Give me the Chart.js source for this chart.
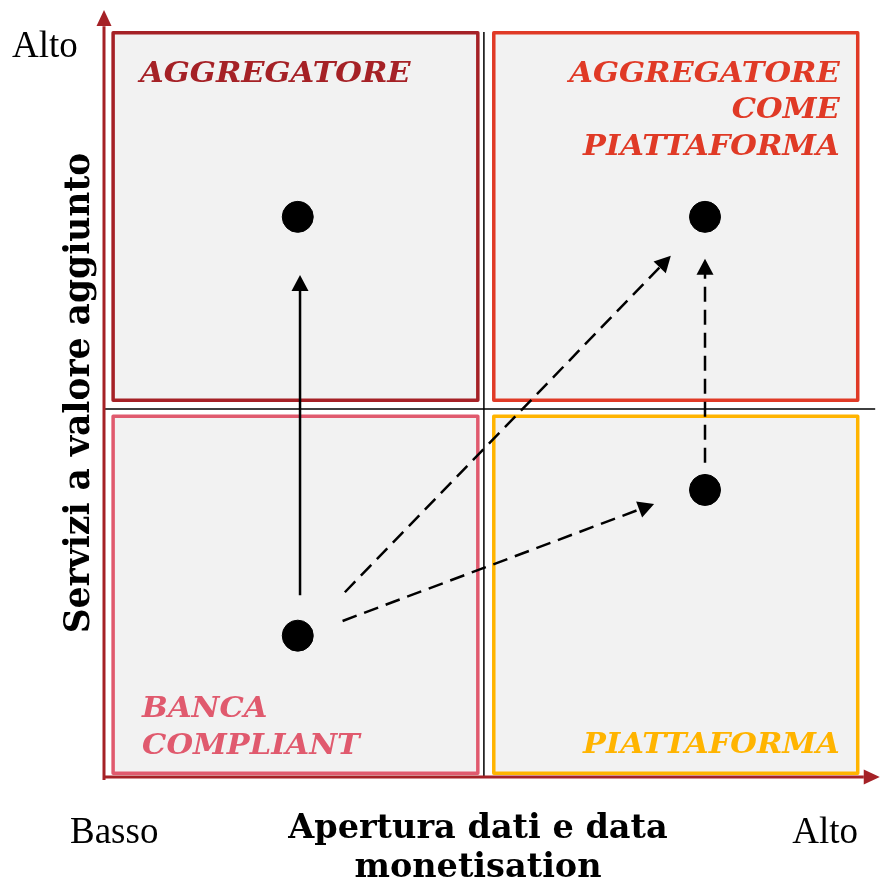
<!DOCTYPE html>
<html>
<head>
<meta charset="utf-8">
<script src="https://cdn.jsdelivr.net/npm/chart.js@4/dist/chart.umd.min.js"></script>
<style>
  html, body { margin: 0; padding: 0; background: #fff; overflow: hidden; }
  #wrap { width: 880px; height: 884px; }
  canvas { display: block; }
</style>
</head>
<body>
<div id="wrap"><canvas id="myChart"></canvas></div>
<script>
/* dati della matrice */
const quadrantLabels = [
    ['AGGREGATORE'],
    ['AGGREGATORE', 'COME', 'PIATTAFORMA'],
    ['BANCA', 'COMPLIANT'],
    ['PIATTAFORMA']
];
const quadrantColors = ['#a52126', '#e03a26', '#e05a6e', '#ffb400'];
// x0, x1, y0, y1 in unita del grafico
const quadrantX0 = [0.12, 5.13, 0.12, 5.13];
const quadrantX1 = [4.92, 9.92, 4.92, 9.92];
const quadrantY0 = [5.12, 5.12, 0.05, 0.05];
const quadrantY1 = [10.11, 10.11, 4.90, 4.90];

const pointX = [2.55, 7.91, 7.91, 2.55];
const pointY = [7.61, 7.61, 3.90, 1.92];

// frecce: partenza -> arrivo
const arrowFromX = [2.58, 3.17, 3.14, 7.91];
const arrowFromY = [2.47, 2.51, 2.12, 4.27];
const arrowToX = [2.58, 7.46, 7.24, 7.91];
const arrowToY = [6.82, 7.08, 3.71, 7.04];
const arrowDashed = [false, true, true, true];

const xLow = 'Basso';
const xHigh = 'Alto';
const yHigh = 'Alto';
const xTitle = ['Apertura dati e data', 'monetisation'];
const yTitle = 'Servizi a valore aggiunto';

const SERIF = '"DejaVu Serif", "Liberation Serif", serif';
const TIMES = '"Liberation Serif", serif';

/* punta di freccia */
let arrowHead = (ctx, x, y, angle, len, half) => {
    ctx.save();
    ctx.translate(x, y);
    ctx.rotate(angle);
    ctx.beginPath();
    ctx.moveTo(0, 0);
    ctx.lineTo(-len, -half);
    ctx.lineTo(-len, half);
    ctx.closePath();
    ctx.fill();
    ctx.restore();
};

/* testo allargato in orizzontale */
let wideText = (ctx, s, x, y, align, k) => {
    ctx.save();
    ctx.translate(x, y);
    ctx.scale(k, 1);
    ctx.textAlign = align;
    ctx.fillText(s, 0, 0);
    ctx.restore();
};

const matrixPlugin = {
    id: 'matrix',
    beforeDatasetsDraw(chart) {
        const ctx = chart.ctx;
        const sx = chart.scales.x, sy = chart.scales.y;
        const X = v => sx.getPixelForValue(v);
        const Y = v => sy.getPixelForValue(v);
        ctx.save();

        // riquadri
        for (let i = 0; i < 4; i++) {
            const l = X(quadrantX0[i]), r = X(quadrantX1[i]);
            const t = Y(quadrantY1[i]), b = Y(quadrantY0[i]);
            ctx.fillStyle = '#f2f2f2';
            ctx.fillRect(l, t, r - l, b - t);
            ctx.strokeStyle = quadrantColors[i];
            ctx.lineWidth = 3.5;
            ctx.lineJoin = 'round';
            ctx.strokeRect(l, t, r - l, b - t);
        }

        // linee divisorie
        ctx.strokeStyle = '#000';
        ctx.lineWidth = 1.5;
        ctx.beginPath();
        ctx.moveTo(X(5), Y(10.12));
        ctx.lineTo(X(5), Y(0));
        ctx.moveTo(X(0), Y(5));
        ctx.lineTo(X(10.15), Y(5));
        ctx.stroke();

        // assi
        const axisCol = '#a52126';
        ctx.strokeStyle = axisCol;
        ctx.fillStyle = axisCol;
        ctx.lineWidth = 3;
        ctx.beginPath();
        ctx.moveTo(X(0), Y(-0.04));
        ctx.lineTo(X(0), Y(10.2));
        ctx.moveTo(X(0), Y(0));
        ctx.lineTo(X(10.0), Y(0));
        ctx.stroke();
        arrowHead(ctx, X(0), Y(10.42), -Math.PI / 2, 16, 7.5);
        arrowHead(ctx, X(10.21), Y(0), 0, 16, 7.5);

        // frecce
        ctx.strokeStyle = '#000';
        ctx.fillStyle = '#000';
        ctx.lineWidth = 2.5;
        for (let i = 0; i < arrowFromX.length; i++) {
            const x0 = X(arrowFromX[i]), y0 = Y(arrowFromY[i]);
            const x1 = X(arrowToX[i]), y1 = Y(arrowToY[i]);
            const ang = Math.atan2(y1 - y0, x1 - x0);
            const len = 16;
            ctx.setLineDash(arrowDashed[i] ? [15, 8] : []);
            ctx.beginPath();
            ctx.moveTo(x0, y0);
            ctx.lineTo(x1 - Math.cos(ang) * len * 0.8, y1 - Math.sin(ang) * len * 0.8);
            ctx.stroke();
            ctx.setLineDash([]);
            arrowHead(ctx, x1, y1, ang, len, 8.5);
        }
        ctx.restore();
    },
    afterDraw(chart) {
        const ctx = chart.ctx;
        const sx = chart.scales.x, sy = chart.scales.y;
        const X = v => sx.getPixelForValue(v);
        const Y = v => sy.getPixelForValue(v);
        ctx.save();
        ctx.textBaseline = 'alphabetic';

        // etichette dei quadranti
        ctx.font = 'italic bold 28px ' + SERIF;
        const lh = 36.5;
        const k = 1.09;
        // alto sinistra
        ctx.fillStyle = quadrantColors[0];
        wideText(ctx, quadrantLabels[0][0], X(quadrantX0[0]) + 27, Y(quadrantY1[0]) + 49, 'left', k);
        // alto destra
        ctx.fillStyle = quadrantColors[1];
        quadrantLabels[1].forEach((s, j) => {
            wideText(ctx, s, X(quadrantX1[1]) - 18, Y(quadrantY1[1]) + 49 + j * lh, 'right', k);
        });
        // basso sinistra
        ctx.fillStyle = quadrantColors[2];
        quadrantLabels[2].forEach((s, j) => {
            wideText(ctx, s, X(quadrantX0[2]) + 29, Y(quadrantY0[2]) - 56 + j * lh, 'left', k);
        });
        // basso destra
        ctx.fillStyle = quadrantColors[3];
        wideText(ctx, quadrantLabels[3][0], X(quadrantX1[3]) - 18, Y(quadrantY0[3]) - 20, 'right', k);

        // Alto / Basso
        ctx.fillStyle = '#000';
        ctx.font = '37px ' + TIMES;
        ctx.textAlign = 'left';
        ctx.fillText(yHigh, 12, 57);
        ctx.fillText(xLow, 70, 843);
        ctx.textAlign = 'right';
        ctx.fillText(xHigh, 858, 843);

        // titoli assi
        ctx.font = 'bold 33.5px ' + SERIF;
        ctx.textAlign = 'center';
        ctx.fillText(xTitle[0], 478, 838);
        ctx.fillText(xTitle[1], 478, 877);

        ctx.font = 'bold 34.5px ' + SERIF;
        ctx.save();
        ctx.translate(89, 393);
        ctx.rotate(-Math.PI / 2);
        ctx.fillText(yTitle, 0, 0);
        ctx.restore();

        ctx.restore();
    }
};

const data = {
    datasets: [{
        data: pointX.map((x, i) => ({ x: x, y: pointY[i] })),
        pointRadius: 15.5,
        pointHoverRadius: 15.5,
        pointBackgroundColor: '#000',
        pointBorderColor: '#000',
        showLine: false
    }]
};

const config = {
    type: 'scatter',
    data: data,
    options: {
        responsive: true,
        maintainAspectRatio: false,
        animation: false,
        layout: { autoPadding: false, padding: { left: 104, right: 1, top: 11.5, bottom: 107 } },
        plugins: { legend: { display: false }, tooltip: { enabled: false } },
        scales: {
            x: { type: 'linear', min: 0, max: 10.2, display: false },
            y: { type: 'linear', min: 0, max: 10.4, display: false }
        }
    },
    plugins: [matrixPlugin]
};

new Chart(document.getElementById('myChart'), config);
</script>
</body>
</html>
